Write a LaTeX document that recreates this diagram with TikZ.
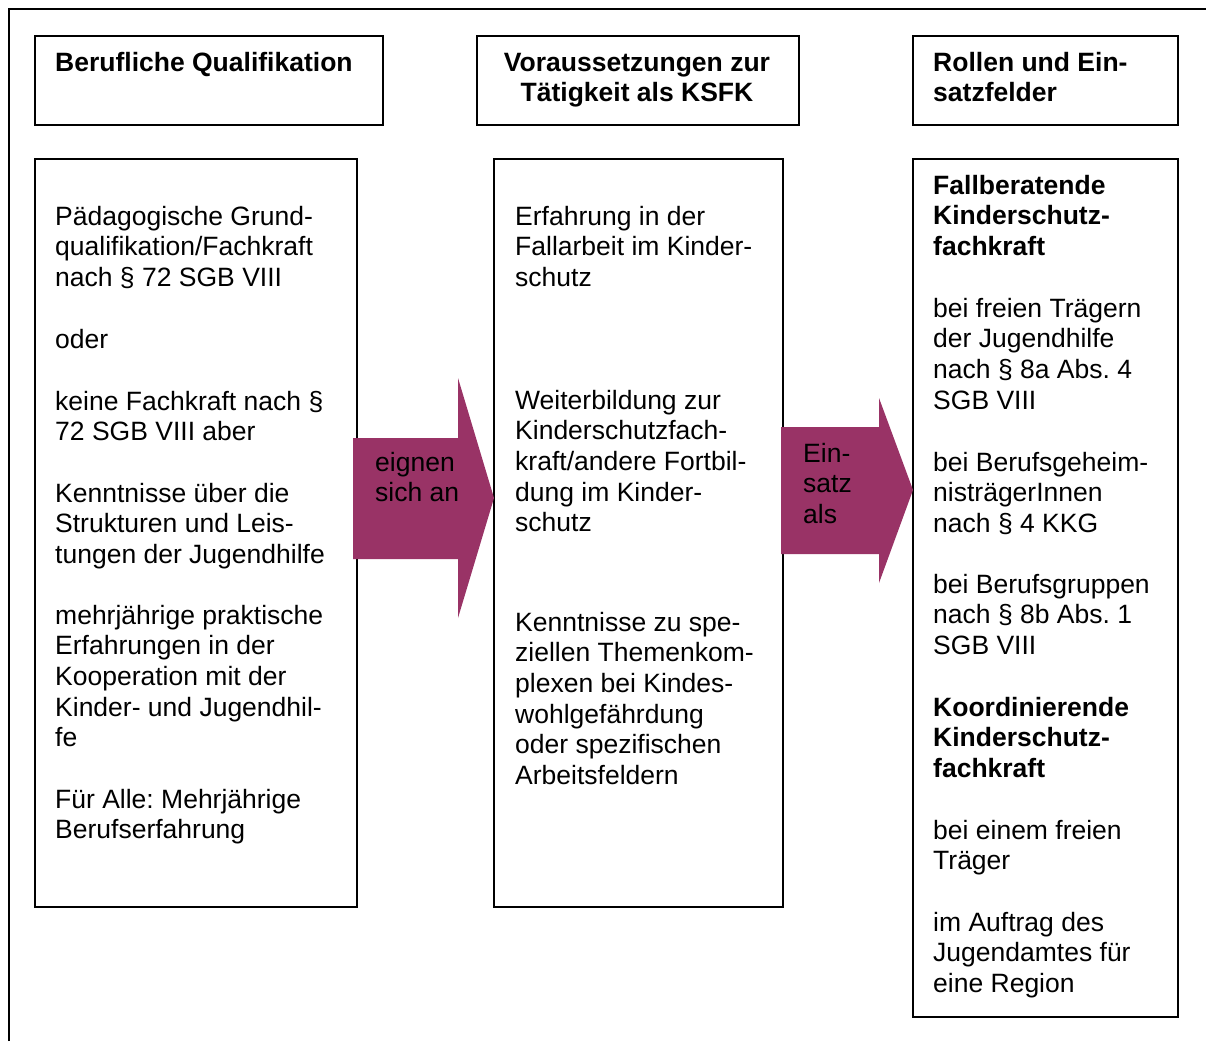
\documentclass[tikz,border=0pt]{standalone}
\usepackage{fontspec}
\setmainfont{Liberation Sans}
\frenchspacing
\definecolor{plum}{RGB}{153,51,102}

% base anchor of a multi-line node sits on its last line,
% so each text is placed at the baseline of its last line
\tikzset{
  rahmen/.style={draw=black, line width=1.6pt, inner sep=0pt, anchor=north west},
  txt/.style={inner sep=0pt, anchor=base west, align=left, font=\fontsize{26.5}{30.7}\selectfont},
  kopf/.style={txt, font=\fontsize{26.5}{30.7}\selectfont\bfseries},
  pfeil/.style={fill=plum, draw=none}
}

\begin{document}
\begin{tikzpicture}[x=1pt, y=-1pt]
\useasboundingbox (0,0) rectangle (1206,1041);
% outer frame
\draw[line width=1.6pt] (9,1041) -- (9,9) -- (1206,9);

% headers
\node[rahmen, minimum width=348pt, minimum height=89pt] (qualkopf) at (34,35) {};
\node[rahmen, minimum width=322pt, minimum height=89pt] (vorkopf) at (476,35) {};
\node[rahmen, minimum width=265pt, minimum height=89pt] (rollkopf) at (912,35) {};
\node[kopf] (h1) at (55,71) {Berufliche Qualifikation};
\node[kopf, anchor=base, align=center] (h2) at (637,101.7) {Voraussetzungen zur\\Tätigkeit als KSFK};
\node[kopf] (h3) at (933,101.7) {Rollen und Ein-\\satzfelder};

% columns
\node[rahmen, minimum width=322pt, minimum height=748pt] (qual) at (34,158) {};
\node[rahmen, minimum width=289pt, minimum height=748pt] (vor) at (493,158) {};
\node[rahmen, minimum width=265pt, minimum height=858pt] (roll) at (912,158) {};

% block arrows
\fill[pfeil] (353,438) -- (458,438) -- (458,378) -- (494,498) -- (458,618) -- (458,559) -- (353,559) -- cycle;
\fill[pfeil] (781,427) -- (879,427) -- (879,398) -- (913,490) -- (879,583) -- (879,554) -- (781,554) -- cycle;
\node[txt] (a1) at (375,501.7) {eignen\\sich an};
\node[txt] (a2) at (803,523.4) {Ein-\\satz\\als};

% left column
\node[txt] (p1) at (55,286.4) {Pädagogische Grund-\\qualifikation/Fachkraft\\nach § 72 SGB VIII};
\node[txt] (p2) at (55,348) {oder};
\node[txt] (p3) at (55,440.7) {keine Fachkraft nach §\\72 SGB VIII aber};
\node[txt] (p4) at (55,563.4) {Kenntnisse über die\\Strukturen und Leis-\\tungen der Jugendhilfe};
\node[txt] (p5) at (55,746.8) {mehrjährige praktische\\Erfahrungen in der\\Kooperation mit der\\Kinder- und Jugendhil-\\fe};
\node[txt] (p6) at (55,838.7) {Für Alle: Mehrjährige\\Berufserfahrung};

% middle column
\node[txt] (q1) at (515,286.4) {Erfahrung in der\\Fallarbeit im Kinder-\\schutz};
\node[txt] (q2) at (515,531.8) {Weiterbildung zur\\Kinderschutzfach-\\kraft/andere Fortbil-\\dung im Kinder-\\schutz};
\node[txt] (q3) at (515,784.5) {Kenntnisse zu spe-\\ziellen Themenkom-\\plexen bei Kindes-\\wohlgefährdung\\oder spezifischen\\Arbeitsfeldern};

% right column
\node[kopf] (r1) at (933,255.4) {Fallberatende\\Kinderschutz-\\fachkraft};
\node[txt] (r2) at (933,409.1) {bei freien Trägern\\der Jugendhilfe\\nach § 8a Abs. 4\\SGB VIII};
\node[txt] (r3) at (933,532.4) {bei Berufsgeheim-\\nisträgerInnen\\nach § 4 KKG};
\node[txt] (r4) at (933,654.4) {bei Berufsgruppen\\nach § 8b Abs. 1\\SGB VIII};
\node[kopf] (r5) at (933,777.4) {Koordinierende\\Kinderschutz-\\fachkraft};
\node[txt] (r6) at (933,869.7) {bei einem freien\\Träger};
\node[txt] (r7) at (933,992.4) {im Auftrag des\\Jugendamtes für\\eine Region};
\end{tikzpicture}
\end{document}
